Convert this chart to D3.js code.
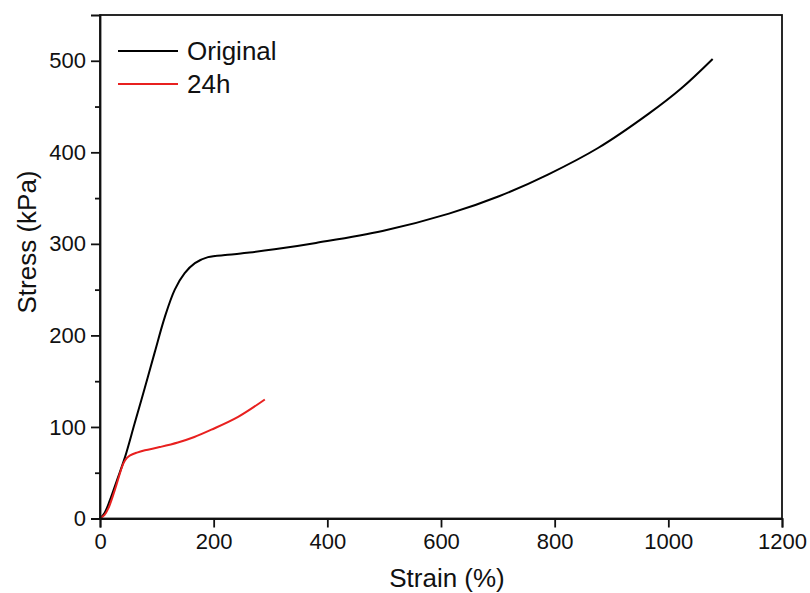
<!DOCTYPE html>
<html>
<head>
<meta charset="utf-8">
<script src="https://cdn.jsdelivr.net/npm/d3@7"></script>
<style>
  body { margin: 0; background: #fff; }
  text { font-family: Arial, "Liberation Sans", sans-serif; fill: #111; }
</style>
</head>
<body>
<div id="chart"></div>
<script>
// Stress-strain curves
const seriesNames = ["Original", "24h"];
const seriesColors = ["#000000", "#e8201f"];

const originalStrain = [0, 8, 17.5, 30, 44, 61, 79, 96.5, 114, 131.6, 149, 167, 190, 225, 263, 307, 380, 497, 614, 702, 789, 877, 965, 1023, 1078];
const originalStress = [0, 6, 20, 42, 67, 104, 143, 182, 220, 250, 268, 279, 285.5, 288, 290.5, 294, 301, 314, 333, 352, 376, 405, 442, 470, 502];

const h24Strain = [0, 8, 14.6, 26, 41, 47, 53, 65, 79, 105, 137, 166, 196, 243, 290];
const h24Stress = [0, 4, 11, 31, 60, 66, 69, 72, 74.5, 78, 83, 89, 97, 111, 130];

const xTicks = [0, 200, 400, 600, 800, 1000, 1200];
const yTicks = [0, 100, 200, 300, 400, 500];
const yMinorTicks = [50, 150, 250, 350, 450];

const width = 810, height = 593;
const margin = {top: 15, right: 28, bottom: 74.5, left: 100};

const svg = d3.select('#chart').append('svg')
  .attr('width', width)
  .attr('height', height);

const x = d3.scaleLinear()
  .domain([0, 1200])
  .range([margin.left, width - margin.right]);

const y = d3.scaleLinear()
  .domain([0, 550])
  .range([height - margin.bottom, margin.top]);

const series = [
  {name: seriesNames[0], color: seriesColors[0], pts: originalStrain.map((s, i) => [s, originalStress[i]])},
  {name: seriesNames[1], color: seriesColors[1], pts: h24Strain.map((s, i) => [s, h24Stress[i]])}
];

const line = d3.line()
  .x(d => x(d[0]))
  .y(d => y(d[1]))
  .curve(d3.curveCatmullRom.alpha(0.5));

svg.selectAll('path.curve')
  .data(series).enter().append('path')
  .attr('class', 'curve')
  .attr('d', d => line(d.pts))
  .attr('fill', 'none')
  .attr('stroke', d => d.color)
  .attr('stroke-width', 2);

// frame
svg.append('rect')
  .attr('x', x(0))
  .attr('y', y(550))
  .attr('width', x(1200) - x(0))
  .attr('height', y(0) - y(550))
  .attr('fill', 'none')
  .attr('stroke', '#111')
  .attr('stroke-width', 1.8);

// axes
const xAxis = svg.append('g')
  .attr('transform', `translate(0,${y(0)})`)
  .call(d3.axisBottom(x).tickValues(xTicks).tickSize(9).tickPadding(6).tickFormat(d3.format('d')));

const yAxis = svg.append('g')
  .attr('transform', `translate(${x(0)},0)`)
  .call(d3.axisLeft(y).tickValues(yTicks).tickSize(9).tickPadding(5).tickFormat(d3.format('d')));

svg.append('g')
  .attr('transform', `translate(${x(0)},0)`)
  .call(d3.axisLeft(y).tickValues(yMinorTicks).tickSize(5).tickFormat(''))
  .select('.domain').remove();

[xAxis, yAxis].forEach(g => {
  g.select('.domain').attr('stroke', '#111').attr('stroke-width', 1.8);
  g.selectAll('text').style('font-size', '22px').attr('fill', '#111');
});
svg.selectAll('.tick line').attr('stroke', '#111').attr('stroke-width', 1.8);

// axis titles
svg.append('text')
  .attr('x', 447)
  .attr('y', 587)
  .attr('text-anchor', 'middle')
  .style('font-size', '26px')
  .text('Strain (%)');

svg.append('text')
  .attr('transform', 'translate(36,242) rotate(-90)')
  .attr('text-anchor', 'middle')
  .style('font-size', '26px')
  .text('Stress (kPa)');

// legend
const legend = svg.append('g')
  .selectAll('g')
  .data(series).enter().append('g')
  .attr('transform', (d, i) => `translate(118,${51 + i * 33})`);

legend.append('line')
  .attr('x1', 0).attr('x2', 60)
  .attr('stroke', d => d.color)
  .attr('stroke-width', 2);

legend.append('text')
  .attr('x', 69)
  .attr('y', 9)
  .style('font-size', '26px')
  .text(d => d.name);
</script>
</body>
</html>
